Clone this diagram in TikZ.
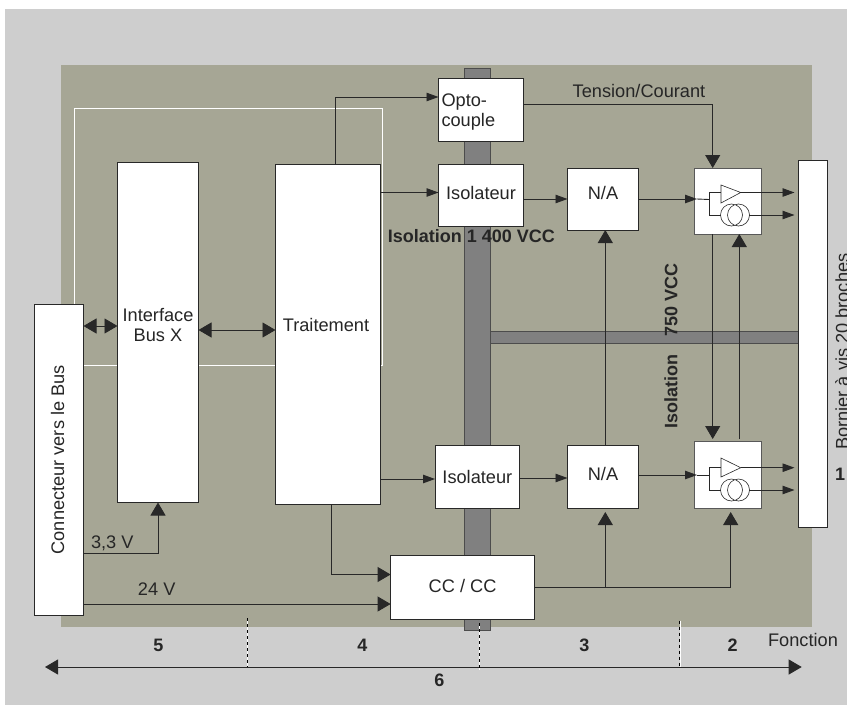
\documentclass[tikz,border=0pt]{standalone}
\usepackage{fontspec}
\setmainfont{Liberation Sans}
\usepackage{xcolor}
\usetikzlibrary{arrows.meta, calc}
\definecolor{fond}{RGB}{206, 206, 206}
\definecolor{panneau}{RGB}{166, 166, 149}
\definecolor{barre}{RGB}{128, 128, 128}
\definecolor{trait}{RGB}{40, 40, 40}

\begin{document}
\begin{tikzpicture}[
    x=1pt, y=-1pt,
    >={Triangle[length=13pt,width=15pt]},
    area/.style={rectangle, inner sep=0pt, outer sep=0pt, fill=#1},
    strip/.style={rectangle, inner sep=0pt, outer sep=0pt, fill=barre, draw=black!70, line width=0.7pt},
    cadre/.style={rectangle, inner sep=0pt, outer sep=0pt, draw=white, line width=0.9pt},
    block/.style={rectangle, draw=trait, fill=white, line width=1pt, inner sep=0pt, outer sep=0pt,
      align=center, text height=0pt, text depth=0pt, text=black!85,
      font=\fontsize{18.2}{20.5}\selectfont},
    ampli/.style={block, draw=black!65, minimum width=67pt},
    lbl/.style={inner sep=0pt, anchor=base, text=black!85, font=\fontsize{18.2}{20.5}\selectfont},
    lblb/.style={lbl, font=\fontsize{18}{20.5}\selectfont\bfseries},
    arr/.style={->, trait, line width=0.9pt},
    arrf/.style={-{Triangle[length=12pt,width=8.5pt]}, trait, line width=0.9pt},
    wire/.style={trait, line width=0.9pt},
    symb/.style={trait, line width=0.6pt},
    tick/.style={black, line width=0.7pt, dash pattern=on 3pt off 3pt, preaction={draw=white, solid}}
  ]
  \useasboundingbox (0,0) rectangle (847,705);

  \node[area=fond, minimum width=842pt, minimum height=696pt] (bg) at (426,357) {};
  \node[area=panneau, minimum width=751.5pt, minimum height=562pt] (panel) at (436.25,346) {};

  \node[strip, minimum width=26.7pt, minimum height=562pt] (isov) at (477.35,349) {};
  \node[strip, minimum width=308.3pt, minimum height=11.6pt] (isoh) at (644.85,337.5) {};
  \node[cadre, minimum width=308pt, minimum height=257pt] (zone) at (228,237) {};

  \node[block, rotate=90, minimum width=310.5pt, minimum height=49pt, text height=10pt] (conn) at (59,459.75) {Connecteur vers le Bus};
  \node[block, minimum width=81pt, minimum height=340pt, text height=18.4pt] (iface) at (158,332.5) {Interface\\Bus X};
  \node[block, minimum width=105pt, minimum height=340pt, text depth=7pt] (proc) at (328,334.5) {Traitement\hspace{4pt}};

  \node[block, minimum width=85pt, minimum height=63pt, text depth=8pt, text width=79pt, inner xsep=3pt, align=left] (opto) at (481,110) {Opto-\\couple};
  \node[block, minimum width=85pt, minimum height=62pt, text height=8pt] (iso1) at (481,195) {Isolateur};
  \node[block, minimum width=71pt, minimum height=62pt] (na1) at (603,199) {N/A};
  \node[ampli, minimum height=66pt] (amp1) at (727.5,201) {};

  \node[block, minimum width=84.7pt, minimum height=63pt, text height=13pt] (iso2) at (477.35,476.5) {Isolateur};
  \node[block, minimum width=71pt, minimum height=63pt, text height=8.4pt] (na2) at (603,476.5) {N/A};
  \node[ampli, minimum height=67pt] (amp2) at (727.5,474.5) {};

  \node[block, minimum width=144pt, minimum height=63.3pt, text height=10.8pt] (cc) at (462.6,587.35) {CC / CC};
  \node[block, minimum width=29pt, minimum height=366.5pt] (born) at (813,343.75) {};

  % amplifier and current source symbols
  \coordinate (j1) at (709,199.5);
  \coordinate (sa1) at (740.7,192.5);
  \coordinate (sb1) at (749.3,215);
  \draw[symb] (721,185) -- (sa1) -- (721,203) -- cycle;
  \draw[symb] (731.5,215) circle[radius=11pt] (738.5,215) circle[radius=11pt];
  \draw[wire] (j1 |- sa1) -- (721,192.5);
  \draw[wire] (j1 |- sa1) -- (j1 |- sb1) -- (720.5,215);

  \coordinate (j2) at (709,475);
  \coordinate (sa2) at (740.7,467.7);
  \coordinate (sb2) at (749.3,490);
  \draw[symb] (721,458) -- (sa2) -- (721,477) -- cycle;
  \draw[symb] (731.5,490) circle[radius=11pt] (738.5,490) circle[radius=11pt];
  \draw[wire] (j2 |- sa2) -- (721,467.7);
  \draw[wire] (j2 |- sa2) -- (j2 |- sb2) -- (720.5,490);

  % upper channel
  \draw[arrf] ([xshift=7pt]proc.north) |- ([yshift=13pt]opto.west);
  \draw[arrf] ([yshift=2.5pt]iso1.west -| proc.east) -- ([yshift=2.5pt]iso1.west);
  \draw[arrf] (iso1.east |- na1.west) -- (na1.west);
  \draw[arrf] (na1.east) -- ([xshift=3pt]amp1.west |- na1.east);
  \draw[wire] ([xshift=3pt]amp1.west |- na1.east) -- (j1);
  \draw[arr] ([yshift=5.5pt]opto.east) -| ([xshift=-14.8pt]amp1.north);
  \draw[arrf, shorten >=4pt] (sa1) -- (sa1 -| born.west);
  \draw[arrf, shorten >=4pt] (sb1) -- (sb1 -| born.west);

  % lower channel
  \draw[arrf] (proc.east |- iso2.west) ++(0,2.5) -- ([yshift=-2.5pt]iso2.west);
  \draw[arrf] (iso2.east |- 0,478) -- (na2.west |- 0,478);
  \draw[arrf] (na2.east |- 0,475) -- ([xshift=3pt]amp2.west |- 0,475);
  \draw[wire] ([xshift=3pt]amp2.west |- 0,475) -- (j2);
  \draw[arrf, shorten >=4pt] (sa2) -- (sa2 -| born.west);
  \draw[arrf, shorten >=4pt] (sb2) -- (sb2 -| born.west);

  % between channels
  \draw[arr] ([xshift=2.3pt]na2.north) -- ([xshift=2.3pt]na1.south);
  \draw[arr, shorten >=2pt] ([xshift=-14.8pt]amp1.south) -- ([xshift=-14.8pt]amp2.north);
  \draw[arr, shorten <=2pt] ([xshift=11.8pt]amp2.north) -- ([xshift=11.8pt]amp1.south);

  % bus side and supply
  \draw[arr, <->] (conn.south |- 0,326) -- (iface.west |- 0,326);
  \draw[arr, <->] (iface.east |- 0,330) -- (proc.west |- 0,330);
  \draw[arr] (conn.south |- 0,553.5) -| (iface.south);
  \draw[arr] (conn.south |- 0,604) -- (cc.west |- 0,604);
  \draw[arr] ([xshift=3.5pt]proc.south) |- (cc.west |- 0,574.5);
  \draw[arr, shorten >=4pt] (cc.east) -| ([xshift=3.2pt]amp2.south);
  \draw[arr, shorten >=4pt] ([xshift=2.3pt]na2.south |- cc.east) -- ([xshift=2.3pt]na2.south);

  % function scale
  \coordinate (fg) at (45,667);
  \coordinate (fd) at (801.7,667);
  \coordinate (t1) at (247.5,618);
  \coordinate (t2) at (479.3,623);
  \coordinate (t3) at (679.7,620.7);
  \draw[arr, <->] (fg) -- (fd);
  \draw[tick] (t1) -- (t1 |- fg);
  \draw[tick] (t2) -- ([yshift=-3pt]t2 |- fg);
  \draw[tick] (t3) -- (t3 |- fg);

  \node[lbl] (tc) at (639,97.3) {Tension/Courant};
  \node[lbl] (v33) at (112.3,548.3) {3,3 V};
  \node[lbl] (v24) at (156.7,595.7) {24 V};
  \node[lbl] (fct) at (803,646.7) {Fonction};
  \node[lbl, rotate=90, anchor=base west] (bornl) at (848.5,450) {Bornier à vis 20 broches};
  \node[lblb, anchor=base west] (is1) at (387.7,242.7) {Isolation 1 400 VCC};
  \node[lblb, rotate=90, anchor=base west] (is2) at (677.3,429) {Isolation\hspace{18pt}750 VCC};
  \node[lblb] (f1) at (840,480) {1};
  \node[lblb] (f2) at (732.7,651.7) {2};
  \node[lblb] (f3) at (584.3,651.7) {3};
  \node[lblb] (f4) at (362.3,651.7) {4};
  \node[lblb] (f5) at (158.3,651.7) {5};
  \node[lblb] (f6) at (439.3,686.7) {6};
\end{tikzpicture}
\end{document}
